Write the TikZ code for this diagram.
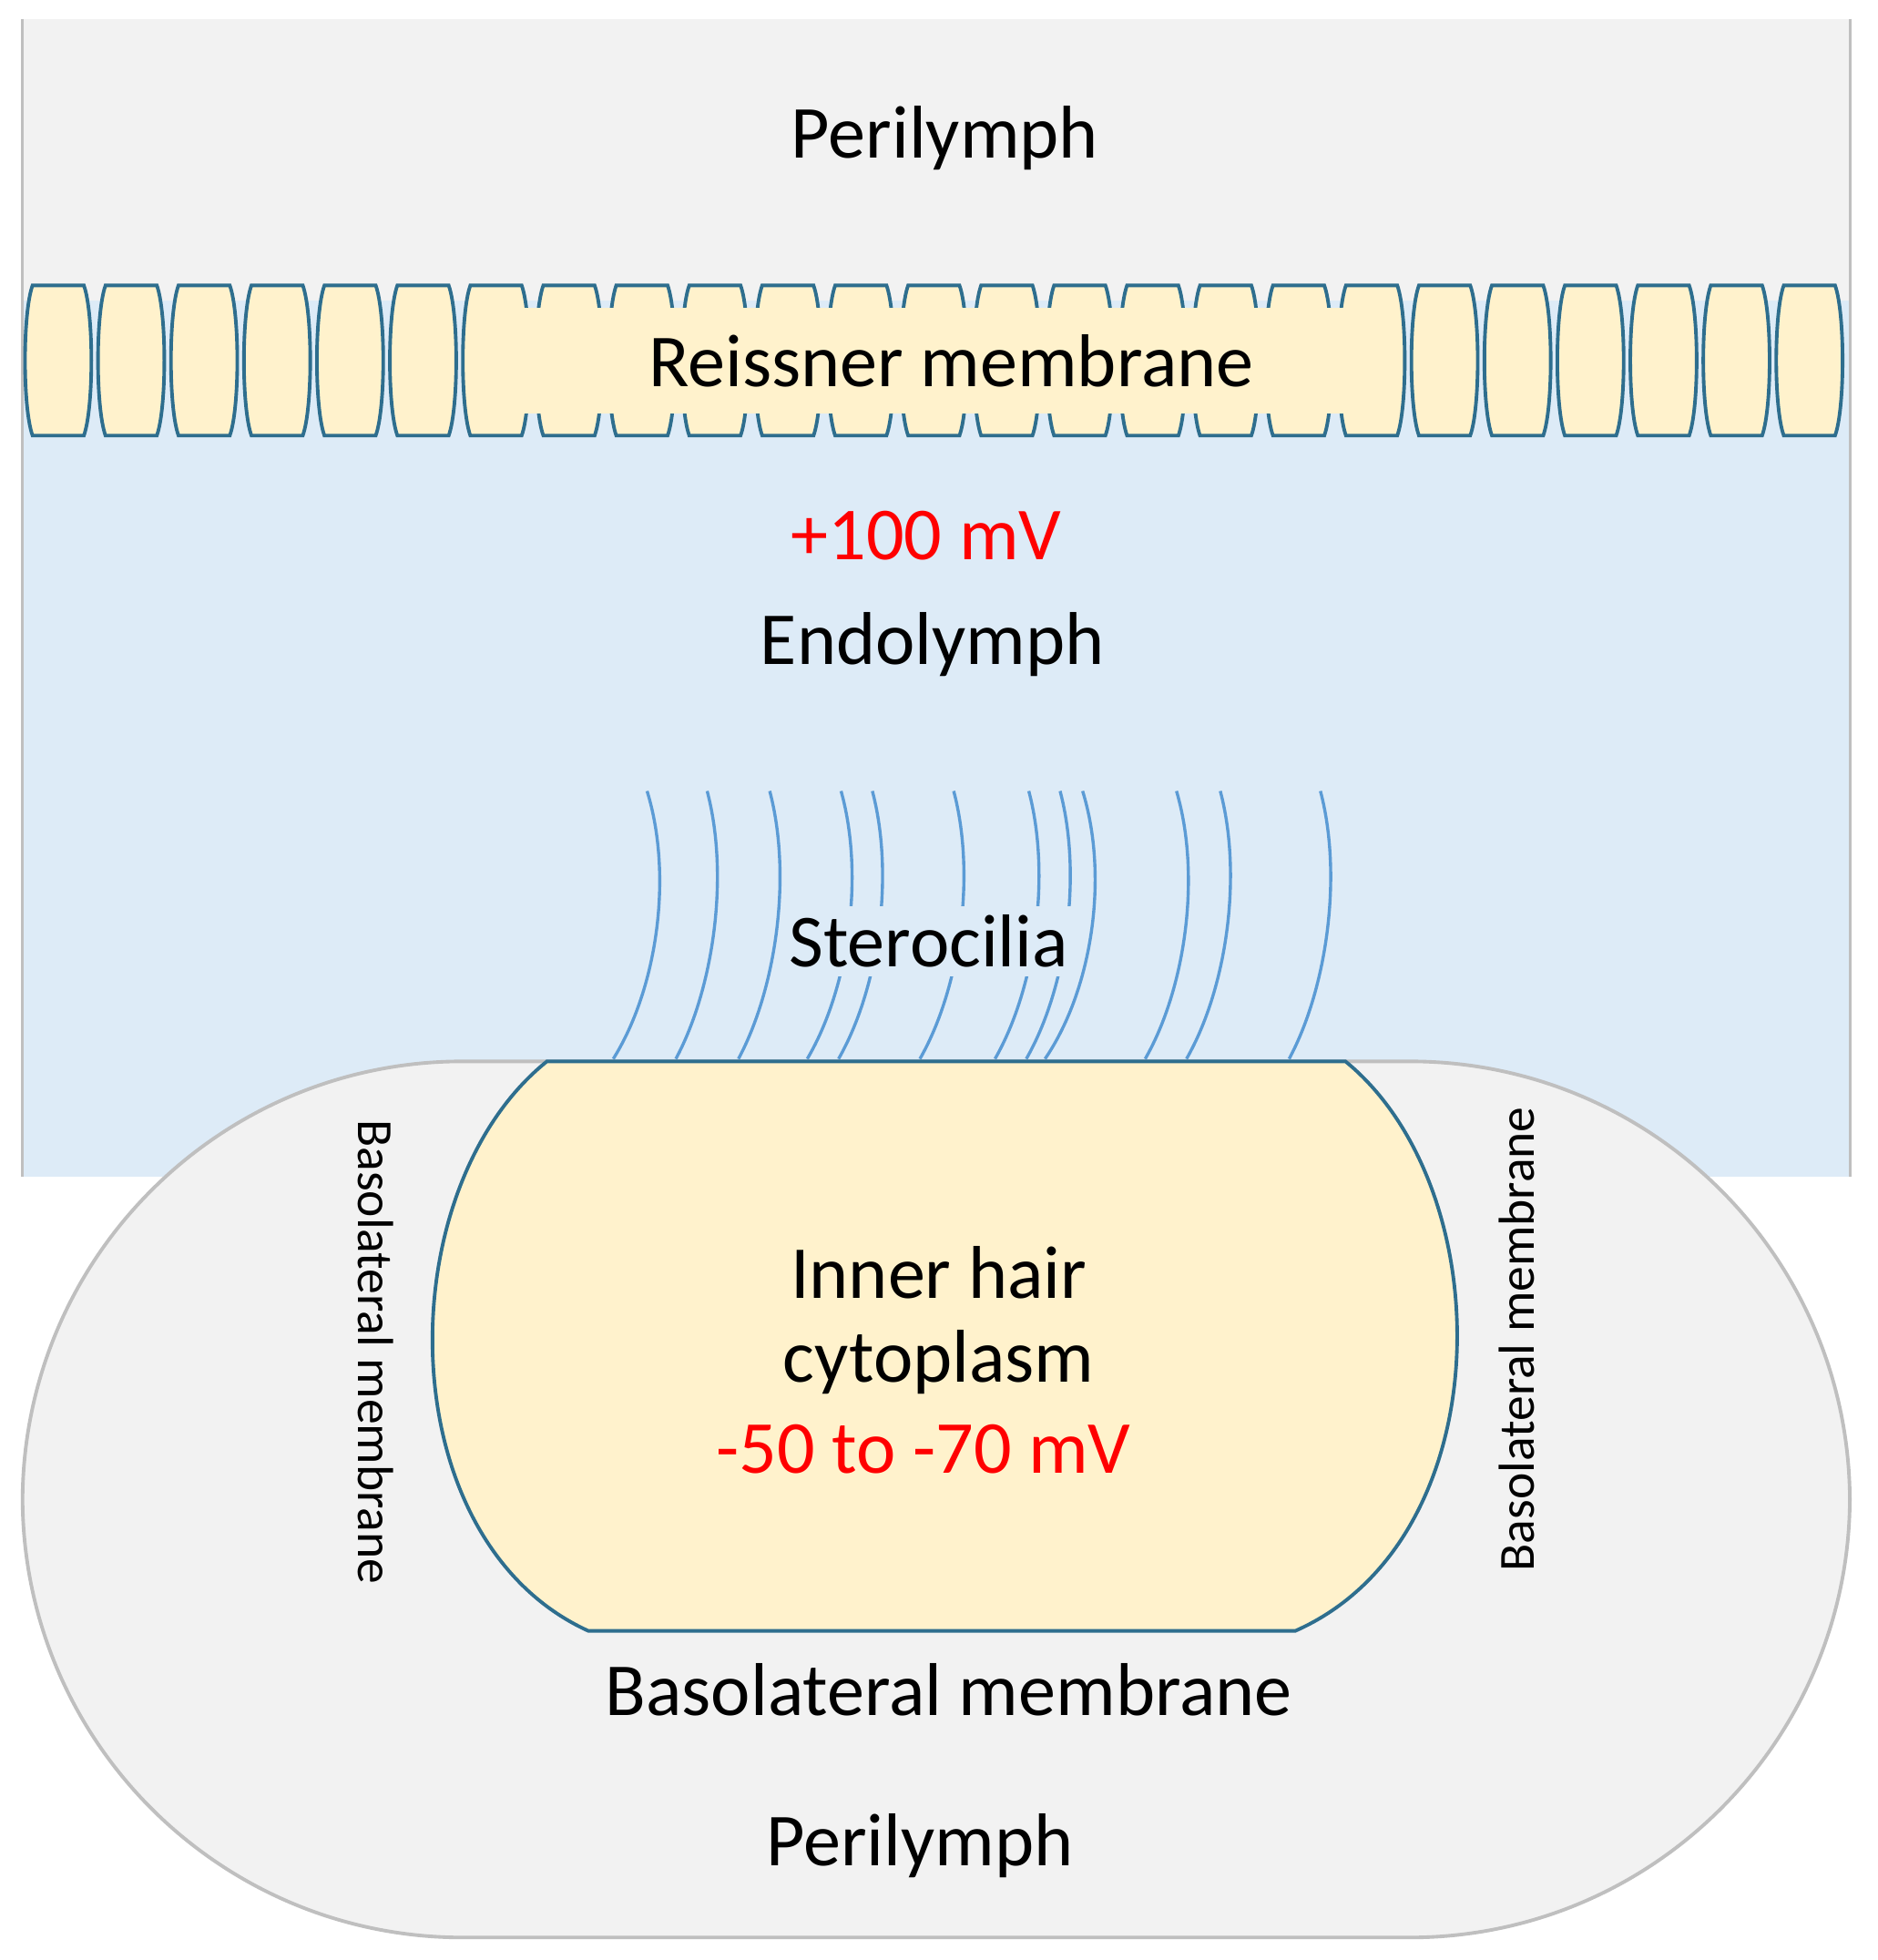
\documentclass[tikz,border=0pt]{standalone}
\usepackage{fontspec}
\setmainfont{Carlito}
\definecolor{peri}{HTML}{F2F2F2}
\definecolor{endo}{HTML}{DDEBF7}
\definecolor{cellf}{HTML}{FFF2CC}
\definecolor{celld}{HTML}{2E6E8E}
\definecolor{cil}{HTML}{5B9BD5}
\definecolor{bord}{HTML}{BFBFBF}
\begin{document}
\begin{tikzpicture}[x=0.01cm,y=-0.01cm,
 lab/.style={font=\fontsize{17}{20}\selectfont},
 red/.style={lab,text={rgb,255:red,255;green,0;blue,0}},
 small/.style={font=\fontsize{11.5}{13}\selectfont},
 memb/.style={draw=celld,fill=cellf,line width=0.8pt},
 cilium/.style={draw=cil,line width=0.7pt}]
\useasboundingbox (0,0) rectangle (1500,1566);
\fill[white] (0,0) rectangle (1500,1566);
% backgrounds
\fill[peri] (18,15) rectangle (1478,240);
\fill[endo] (18,240) rectangle (1478,940);
\draw[bord,line width=0.6pt] (18,15) -- (18,940) (1478,15) -- (1478,940);
\draw[bord,fill=peri,line width=0.8pt,rounded corners=100] (18,848) rectangle (1478,1548);
% Reissner membrane cells
\foreach \i in {0,...,24}{
  \pgfmathsetmacro{\xa}{20+\i*58.3}
  \pgfmathsetmacro{\xb}{\xa+53}
  \draw[memb] (\xa+6,228) -- (\xb-6,228) .. controls (\xb+2,250) and (\xb+2,326) .. (\xb-6,348)
    -- (\xa+6,348) .. controls (\xa-2,326) and (\xa-2,250) .. (\xa+6,228) -- cycle;
}
\fill[cellf] (380,246) rectangle (1118,330);
\node[lab] (reis) at (760,288) {Reissner membrane};
% texts
\node[lab] (peri1) at (755,110) {Perilymph};
\node[red] (pot1) at (740,428) {+100 mV};
\node[lab] (endo) at (745,515) {Endolymph};
% stereocilia
\foreach \b/\t/\m in {490/517/530,540/565/575,590/615/625,645/672/683,670/697/707,735/762/772,795/822/832,820/847/857,835/865/878,915/940/952,948/975/985,1030/1055/1065}{
  \draw[cilium] (\b,846) .. controls (\m-5,790) and (\m+8,700) .. (\t,632);
}
\node[lab,fill=endo,inner sep=2pt] (ster) at (742,752) {Sterocilia};
% hair cell
\draw[memb] (437,848) -- (1075,848) .. controls (1200,950) and (1200,1230) .. (1035,1303)
  -- (470,1303) .. controls (310,1230) and (310,950) .. (437,848) -- cycle;
\node[lab] (ih) at (750,1017) {Inner hair};
\node[lab] (cy) at (750,1088) {cytoplasm};
\node[red] (pot2) at (738,1158) {-50 to -70 mV};
\node[lab] (bm) at (758,1350) {Basolateral membrane};
\node[lab] (peri2) at (735,1475) {Perilymph};
\node[small,rotate=-90] (bl) at (300,1080) {Basolateral membrane};
\node[small,rotate=90] (br) at (1212,1070) {Basolateral membrane};
\end{tikzpicture}
\end{document}
